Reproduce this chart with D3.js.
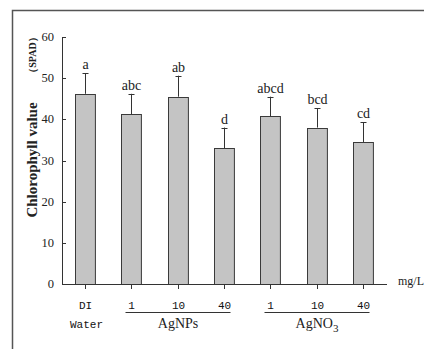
<!DOCTYPE html>
<html>
<head>
<meta charset="utf-8">
<script src="https://cdn.jsdelivr.net/npm/d3@7"></script>
<style>
    body { margin: 0; background: #fff; }
    svg { display: block; }
</style>
</head>
<body>
<svg id="mainSvg" width="424" height="349"></svg>
<script>
// Chlorophyll bar chart

let categories = ["DI", "1", "10", "40", "1", "10", "40"];
let values = [46.2, 41.2, 45.5, 33.0, 40.7, 38.0, 34.5];
let errors = [5.0, 5.0, 5.1, 5.0, 4.8, 4.7, 4.8];
let letters = ["a", "abc", "ab", "d", "abcd", "bcd", "cd"];
let yTicks = [0, 10, 20, 30, 40, 50, 60];
let groups = [
    { name: "AgNPs", from: 1, to: 3 },
    { name: "AgNO", sub: "3", from: 4, to: 6 },
];

let svg = d3.select("#mainSvg");
let serif = "'Liberation Serif', 'Times New Roman', serif";
let mono = "'Liberation Mono', 'DejaVu Sans Mono', monospace";

// outer frame
svg.append("rect")
    .attr("x", 12.5)
    .attr("y", 10.5)
    .attr("width", 430)
    .attr("height", 360)
    .attr("fill", "none")
    .attr("stroke", "#555")
    .attr("stroke-width", 1.5);

let x = d3
    .scaleBand()
    .domain(d3.range(categories.length))
    .range([62, 386])
    .paddingInner(0.57)
    .paddingOuter(0.285);

let y = d3.scaleLinear().domain([0, 60]).range([284, 37]);

let g = svg.append("g");

// y axis
g.append("line")
    .attr("x1", 62.5).attr("x2", 62.5)
    .attr("y1", y(60)).attr("y2", y(0))
    .attr("stroke", "#333");

g.selectAll(".ytick")
    .data(yTicks)
    .join("line")
    .attr("class", "ytick")
    .attr("x1", 62.5).attr("x2", 66)
    .attr("y1", (d) => Math.round(y(d)) + 0.5)
    .attr("y2", (d) => Math.round(y(d)) + 0.5)
    .attr("stroke", "#333");

g.selectAll(".ylab")
    .data(yTicks)
    .join("text")
    .attr("class", "ylab")
    .attr("x", 54)
    .attr("y", (d) => y(d) + 4)
    .attr("text-anchor", "end")
    .attr("font-family", serif)
    .attr("font-size", 12.5)
    .attr("fill", "#222")
    .text((d) => d);

// bars
g.selectAll(".bar")
    .data(values)
    .join("rect")
    .attr("class", "bar")
    .attr("x", (d, i) => Math.round(x(i)) + 0.5)
    .attr("y", (d) => Math.round(y(d)) + 0.5)
    .attr("width", x.bandwidth())
    .attr("height", (d) => y(0) - Math.round(y(d)))
    .attr("fill", "#c4c4c4")
    .attr("stroke", "#3a3a3a");

// error bars
let cx = (i) => Math.round(x(i) + x.bandwidth() / 2) + 0.5;
g.selectAll(".err")
    .data(values)
    .join("line")
    .attr("class", "err")
    .attr("x1", (d, i) => cx(i)).attr("x2", (d, i) => cx(i))
    .attr("y1", (d) => y(d))
    .attr("y2", (d, i) => y(d + errors[i]))
    .attr("stroke", "#333");

g.selectAll(".cap")
    .data(values)
    .join("line")
    .attr("class", "cap")
    .attr("x1", (d, i) => cx(i) - 3).attr("x2", (d, i) => cx(i) + 3)
    .attr("y1", (d, i) => Math.round(y(d + errors[i])) + 0.5)
    .attr("y2", (d, i) => Math.round(y(d + errors[i])) + 0.5)
    .attr("stroke", "#333");

g.selectAll(".letter")
    .data(letters)
    .join("text")
    .attr("class", "letter")
    .attr("x", (d, i) => cx(i))
    .attr("y", (d, i) => y(values[i] + errors[i]) - 4)
    .attr("text-anchor", "middle")
    .attr("font-family", serif)
    .attr("font-size", 14)
    .attr("fill", "#222")
    .text((d) => d);

// x axis
g.append("line")
    .attr("x1", 62).attr("x2", 387)
    .attr("y1", 284.5).attr("y2", 284.5)
    .attr("stroke", "#333");

g.selectAll(".xtick")
    .data(categories)
    .join("line")
    .attr("class", "xtick")
    .attr("x1", (d, i) => cx(i)).attr("x2", (d, i) => cx(i))
    .attr("y1", 284.5).attr("y2", 289)
    .attr("stroke", "#333");

g.selectAll(".xlab")
    .data(categories)
    .join("text")
    .attr("class", "xlab")
    .attr("x", (d, i) => cx(i))
    .attr("y", 309)
    .attr("text-anchor", "middle")
    .attr("font-family", mono)
    .attr("font-size", 11)
    .attr("fill", "#111")
    .text((d) => d);

g.append("text")
    .attr("x", cx(0) + 1)
    .attr("y", 328)
    .attr("text-anchor", "middle")
    .attr("font-family", mono)
    .attr("font-size", 11)
    .attr("fill", "#111")
    .text("Water");

// group labels with underline
groups.forEach(function (grp) {
    let x1 = cx(grp.from) - 6;
    let x2 = cx(grp.to) + 6;
    g.append("line")
        .attr("x1", x1).attr("x2", x2)
        .attr("y1", 312.5).attr("y2", 312.5)
        .attr("stroke", "#333");
    let t = g.append("text")
        .attr("x", (x1 + x2) / 2)
        .attr("y", 328)
        .attr("text-anchor", "middle")
        .attr("font-family", serif)
        .attr("font-size", 14)
        .attr("fill", "#222")
        .text(grp.name);
    if (grp.sub) {
        t.append("tspan")
            .attr("dy", 4)
            .attr("font-size", 11)
            .text(grp.sub);
    }
});

g.append("text")
    .attr("x", 398)
    .attr("y", 285)
    .attr("font-family", serif)
    .attr("font-size", 12)
    .attr("fill", "#222")
    .text("mg/L");

// y axis title
g.append("text")
    .attr("transform", "translate(37,160) rotate(-90)")
    .attr("text-anchor", "middle")
    .attr("font-family", serif)
    .attr("font-weight", "bold")
    .attr("font-size", 15)
    .attr("fill", "#222")
    .text("Chlorophyll value");

g.append("text")
    .attr("transform", "translate(36,55) rotate(-90)")
    .attr("text-anchor", "middle")
    .attr("font-family", serif)
    .attr("font-weight", "bold")
    .attr("font-size", 10)
    .attr("fill", "#222")
    .text("（SPAD）");
</script>
</body>
</html>
